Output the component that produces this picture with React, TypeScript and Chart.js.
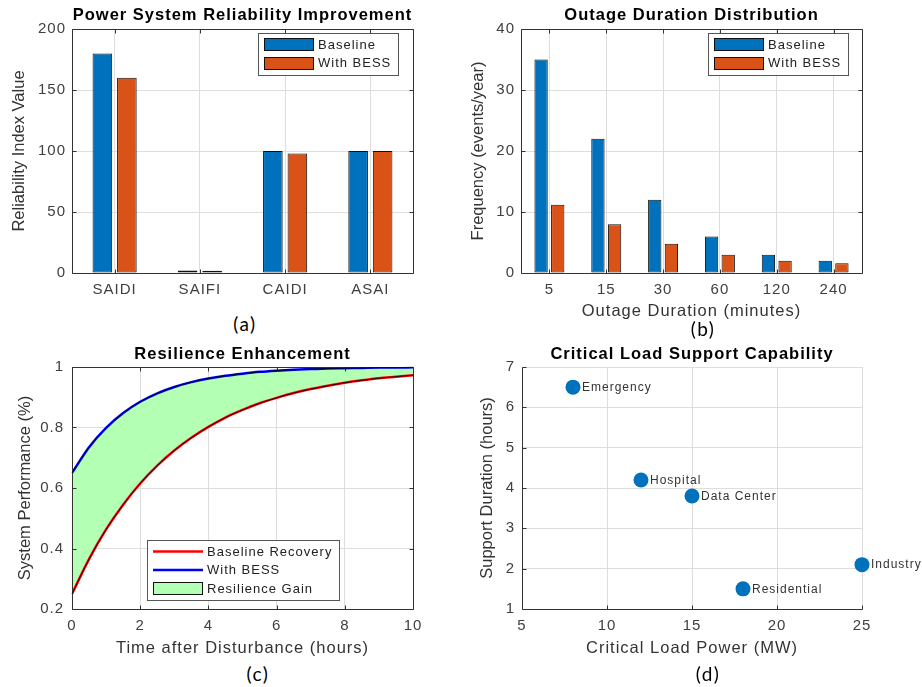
import React, { useEffect, useRef } from "react";
import { Chart, registerables } from "chart.js";

Chart.register(...registerables);

const FONT = "'Liberation Sans', Arial, Helvetica, sans-serif";
const CAPTION_FONT = "Lato, 'Open Sans', sans-serif";
const BLUE = "#0072BD";
const ORANGE = "#D95319";
const GAIN_GREEN = "rgb(179,255,179)";
const GRID = "#dedede";
const AXIS = "#333333";
const TICK_COLOR = "#404040";
const LABEL_COLOR = "#333333";
const TITLE_SIZE = 16.5;
const LABEL_SIZE = 16.5;
const TICK_SIZE = 15;

// ---------- data ----------
// (a) reliability indices
const reliabilityIndices = ["SAIDI", "SAIFI", "CAIDI", "ASAI"];
const reliabilityBaseline = [180, 2, 100, 100];
const reliabilityWithBess = [160, 1.8, 98, 100];
const reliabilityTicks = [0, 50, 100, 150, 200];
const seriesNames = ["Baseline", "With BESS"];

// (b) outage duration distribution
const outageDurations = ["5", "15", "30", "60", "120", "240"];
const outageBaseline = [35, 22, 12, 6, 3, 2];
const outageWithBess = [11.2, 8, 4.8, 3, 2, 1.6];
const frequencyTicks = [0, 10, 20, 30, 40];

// (c) resilience curves
const recoveryHours = [0, 0.5, 1, 1.5, 2, 2.5, 3, 3.5, 4, 4.5, 5, 5.5, 6, 6.5, 7, 7.5, 8, 8.5, 9, 9.5, 10];
const baselineRecovery = [0.25, 0.365, 0.463, 0.545, 0.615, 0.674, 0.724, 0.766, 0.802, 0.833, 0.858, 0.88, 0.898, 0.914, 0.927, 0.938, 0.948, 0.956, 0.963, 0.968, 0.973];
const bessRecovery = [0.65, 0.735, 0.799, 0.848, 0.885, 0.913, 0.934, 0.95, 0.962, 0.971, 0.978, 0.984, 0.988, 0.991, 0.993, 0.995, 0.996, 0.997, 0.998, 0.998, 0.999];
const recoveryNames = ["Baseline Recovery", "With BESS", "Resilience Gain"];
const hourTicks = [0, 2, 4, 6, 8, 10];
const performanceTicks = [0.2, 0.4, 0.6, 0.8, 1];

// (d) critical loads
const loadNames = ["Hospital", "Data Center", "Industry", "Residential", "Emergency"];
const loadPowerMW = [12, 15, 25, 18, 8];
const supportHours = [4.2, 3.8, 2.1, 1.5, 6.5];
const powerTicks = [5, 10, 15, 20, 25];
const durationTicks = [1, 2, 3, 4, 5, 6, 7];

// ---------- plugins ----------
const spacingPlugin = {
  id: "spacing",
  beforeDraw(chart: any) {
    (chart.ctx as any).letterSpacing = "1px";
  },
};

const framePlugin = {
  id: "frame",
  afterDatasetsDraw(chart: any, _a: any, opts: any) {
    const { ctx, chartArea: a, scales } = chart;
    const xs = scales.x;
    const ys = scales.y;
    const L = Math.round(a.left) + 0.5;
    const R = Math.round(a.right) + 0.5;
    const T = Math.round(a.top) + 0.5;
    const B = Math.round(a.bottom) + 0.5;
    const tl = 4;
    ctx.save();
    ctx.strokeStyle = AXIS;
    ctx.lineWidth = 1;
    ctx.beginPath();
    xs.ticks.forEach((_t: any, i: number) => {
      const px = Math.round(xs.getPixelForTick(i)) + 0.5;
      ctx.moveTo(px, B);
      ctx.lineTo(px, B - tl);
      if (opts.box) {
        ctx.moveTo(px, T);
        ctx.lineTo(px, T + tl);
      }
    });
    ys.ticks.forEach((_t: any, i: number) => {
      const py = Math.round(ys.getPixelForTick(i)) + 0.5;
      ctx.moveTo(L, py);
      ctx.lineTo(L + tl, py);
      if (opts.box) {
        ctx.moveTo(R, py);
        ctx.lineTo(R - tl, py);
      }
    });
    ctx.stroke();
    ctx.beginPath();
    if (opts.box) {
      ctx.rect(L, T, R - L, B - T);
    } else {
      ctx.moveTo(L, T);
      ctx.lineTo(L, B);
      ctx.lineTo(R, B);
    }
    ctx.stroke();
    ctx.restore();
  },
};

const edgePlugin = {
  id: "edge",
  afterDatasetsDraw(chart: any, _a: any, opts: any) {
    if (!opts || !opts.datasets) return;
    const { ctx } = chart;
    ctx.save();
    ctx.strokeStyle = "#000";
    ctx.lineWidth = 0.8;
    for (const i of opts.datasets) {
      const line = chart.getDatasetMeta(i).dataset;
      if (!line) continue;
      ctx.beginPath();
      line.path(ctx);
      ctx.stroke();
    }
    ctx.restore();
  },
};

const pointLabelPlugin = {
  id: "pointLabels",
  afterDatasetsDraw(chart: any, _a: any, opts: any) {
    if (!opts || !opts.names) return;
    const { ctx } = chart;
    const meta = chart.getDatasetMeta(0);
    ctx.save();
    ctx.font = `12px ${FONT}`;
    (ctx as any).letterSpacing = "1px";
    ctx.fillStyle = LABEL_COLOR;
    ctx.textAlign = "left";
    ctx.textBaseline = "middle";
    meta.data.forEach((pt: any, i: number) => {
      ctx.fillText(opts.names[i], pt.x + opts.offset, pt.y + 0.5);
    });
    ctx.restore();
  },
};

const yTitlePlugin = {
  id: "yTitle",
  afterDraw(chart: any, _a: any, opts: any) {
    if (!opts || !opts.text) return;
    const { ctx, chartArea: a } = chart;
    ctx.save();
    (ctx as any).letterSpacing = "0px";
    ctx.font = `${LABEL_SIZE}px ${FONT}`;
    ctx.fillStyle = LABEL_COLOR;
    ctx.textAlign = "center";
    ctx.textBaseline = "middle";
    ctx.translate(opts.x, (a.top + a.bottom) / 2);
    ctx.rotate(-Math.PI / 2);
    ctx.fillText(opts.text, 0, 0);
    ctx.restore();
  },
};

const boxLegendPlugin = {
  id: "boxLegend",
  afterDraw(chart: any, _a: any, opts: any) {
    if (!opts || !opts.items) return;
    const { ctx, chartArea: a } = chart;
    const items = opts.items;
    ctx.save();
    ctx.font = `13px ${FONT}`;
    (ctx as any).letterSpacing = "1px";
    const pitch = 18.5;
    const patchW = 50;
    const padL = 6;
    const gap = 4;
    const padR = 7;
    const textW = Math.max(...items.map((it: any) => ctx.measureText(it.label).width));
    const w = Math.round(padL + patchW + gap + textW + padR);
    const h = Math.round(items.length * pitch + 4.5);
    let x0: number;
    let y0: number;
    if (opts.anchor === "topright") {
      x0 = Math.round(a.right - opts.dx - w);
      y0 = Math.round(a.top + opts.dy);
    } else {
      x0 = Math.round(a.left + opts.dx);
      y0 = Math.round(a.bottom - opts.dy - h);
    }
    ctx.fillStyle = "#ffffff";
    ctx.fillRect(x0, y0, w, h);
    ctx.strokeStyle = "#555555";
    ctx.lineWidth = 1;
    ctx.strokeRect(x0 + 0.5, y0 + 0.5, w, h);
    const top = y0 + (h - items.length * pitch) / 2;
    items.forEach((it: any, i: number) => {
      const cy = top + pitch * (i + 0.5);
      const px = x0 + padL;
      if (it.kind === "line") {
        ctx.strokeStyle = it.color;
        ctx.lineWidth = 2.5;
        ctx.beginPath();
        ctx.moveTo(px, cy);
        ctx.lineTo(px + patchW, cy);
        ctx.stroke();
      } else {
        ctx.fillStyle = it.color;
        ctx.fillRect(px, Math.round(cy - 6.5), patchW, 13);
        ctx.strokeStyle = "#111";
        ctx.lineWidth = 1;
        ctx.strokeRect(px + 0.5, Math.round(cy - 6.5) + 0.5, patchW - 1, 12);
      }
      ctx.fillStyle = "#222222";
      ctx.textAlign = "left";
      ctx.textBaseline = "middle";
      ctx.fillText(it.label, px + patchW + gap, cy + 0.5);
    });
    ctx.restore();
  },
};

// ---------- layout helpers ----------
type Region = { x: number; y: number; w: number; h: number };
type Area = { l: number; t: number; r: number; b: number };

interface PanelSpec {
  region: Region;
  area: Area;
  title: string;
  titleY: number;
  xTitle?: string;
  xTitleY?: number;
  xTickPad: number;
  yTickPad: number;
  yTitle: string;
  yTitleX: number;
  box: boolean;
}

function frameLayout(p: PanelSpec) {
  const tl = TITLE_SIZE * 1.2;
  const ll = LABEL_SIZE * 1.2;
  const xHeight =
    p.xTitleY != null ? p.xTitleY + ll / 2 - p.area.b : p.region.y + p.region.h - p.area.b - 2;
  return {
    padding: {
      left: 0,
      top: 0,
      right: p.region.x + p.region.w - p.area.r,
      bottom: p.region.y + p.region.h - p.area.b - xHeight,
    },
    titlePadding: { top: p.titleY - p.region.y - tl / 2, bottom: p.area.t - p.titleY - tl / 2 },
    yWidth: p.area.l - p.region.x,
    xHeight,
  };
}

const fmtTick = (v: any) => String(parseFloat(Number(v).toFixed(2)));

function buildOptions(p: PanelSpec, xBase: any, yBase: any, extraPlugins: any) {
  const L = frameLayout(p);
  const tickFont = { family: FONT, size: TICK_SIZE };
  return {
    responsive: false,
    maintainAspectRatio: false,
    animation: false,
    devicePixelRatio: 1,
    layout: { padding: L.padding },
    plugins: {
      legend: { display: false },
      tooltip: { enabled: false },
      title: {
        display: true,
        text: p.title,
        fullSize: false,
        color: "#000000",
        font: { family: FONT, size: TITLE_SIZE, weight: "bold", lineHeight: 1.2 },
        padding: L.titlePadding,
      },
      yTitle: { text: p.yTitle, x: p.yTitleX - p.region.x },
      frame: { box: p.box },
      ...extraPlugins,
    },
    scales: {
      x: {
        ...xBase,
        grid: { color: GRID, lineWidth: 1, drawTicks: false, offset: false },
        border: { display: false },
        ticks: {
          ...(xBase.ticks || {}),
          color: TICK_COLOR,
          font: tickFont,
          padding: p.xTickPad,
          maxRotation: 0,
          autoSkip: false,
        },
        title: p.xTitle
          ? {
              display: true,
              text: p.xTitle,
              color: LABEL_COLOR,
              font: { family: FONT, size: LABEL_SIZE, lineHeight: 1.2 },
              padding: { top: 0, bottom: 0 },
            }
          : { display: false },
        afterFit: (s: any) => {
          s.height = L.xHeight;
        },
      },
      y: {
        ...yBase,
        grid: { color: GRID, lineWidth: 1, drawTicks: false },
        border: { display: false },
        ticks: {
          ...(yBase.ticks || {}),
          color: TICK_COLOR,
          font: tickFont,
          padding: p.yTickPad,
          autoSkip: false,
        },
        title: { display: false },
        afterFit: (s: any) => {
          s.width = L.yWidth;
        },
      },
    },
  };
}

const allPlugins = [spacingPlugin, framePlugin, edgePlugin, pointLabelPlugin, yTitlePlugin, boxLegendPlugin];

// ---------- panel specs ----------
const panelA: PanelSpec = {
  region: { x: 0, y: 0, w: 461, h: 305 },
  area: { l: 72, t: 29, r: 413, b: 273 },
  title: "Power System Reliability Improvement",
  titleY: 15,
  xTickPad: 8,
  yTickPad: 6,
  yTitle: "Reliability Index Value",
  yTitleX: 19,
  box: true,
};
const panelB: PanelSpec = {
  region: { x: 461, y: 0, w: 461, h: 328 },
  area: { l: 521, t: 29, r: 862, b: 273 },
  title: "Outage Duration Distribution",
  titleY: 15,
  xTitle: "Outage Duration (minutes)",
  xTitleY: 311.5,
  xTickPad: 8,
  yTickPad: 6,
  yTitle: "Frequency (events/year)",
  yTitleX: 478,
  box: true,
};
const panelC: PanelSpec = {
  region: { x: 0, y: 340, w: 461, h: 320 },
  area: { l: 72, t: 367, r: 413, b: 609 },
  title: "Resilience Enhancement",
  titleY: 354,
  xTitle: "Time after Disturbance (hours)",
  xTitleY: 648,
  xTickPad: 8,
  yTickPad: 8,
  yTitle: "System Performance (%)",
  yTitleX: 25,
  box: true,
};
const panelD: PanelSpec = {
  region: { x: 461, y: 340, w: 461, h: 320 },
  area: { l: 522, t: 367, r: 862, b: 609 },
  title: "Critical Load Support Capability",
  titleY: 354,
  xTitle: "Critical Load Power (MW)",
  xTitleY: 648,
  xTickPad: 8,
  yTickPad: 7,
  yTitle: "Support Duration (hours)",
  yTitleX: 487,
  box: false,
};

const barStyle = { borderColor: "#111111", borderWidth: 1, borderSkipped: false, barPercentage: 0.8 };

function configA() {
  return {
    type: "bar",
    data: {
      labels: reliabilityIndices,
      datasets: [
        { label: seriesNames[0], data: reliabilityBaseline, backgroundColor: BLUE, ...barStyle, categoryPercentage: 0.575 },
        { label: seriesNames[1], data: reliabilityWithBess, backgroundColor: ORANGE, ...barStyle, categoryPercentage: 0.575 },
      ],
    },
    options: buildOptions(
      panelA,
      { type: "category" },
      {
        type: "linear",
        min: reliabilityTicks[0],
        max: reliabilityTicks[reliabilityTicks.length - 1],
        ticks: { stepSize: reliabilityTicks[1] - reliabilityTicks[0], callback: fmtTick },
      },
      {
        boxLegend: {
          anchor: "topright",
          dx: 15,
          dy: 4,
          items: [
            { label: seriesNames[0], kind: "patch", color: BLUE },
            { label: seriesNames[1], kind: "patch", color: ORANGE },
          ],
        },
      }
    ),
    plugins: allPlugins,
  };
}

function configB() {
  return {
    type: "bar",
    data: {
      labels: outageDurations,
      datasets: [
        { label: seriesNames[0], data: outageBaseline, backgroundColor: BLUE, ...barStyle, categoryPercentage: 0.586 },
        { label: seriesNames[1], data: outageWithBess, backgroundColor: ORANGE, ...barStyle, categoryPercentage: 0.586 },
      ],
    },
    options: buildOptions(
      panelB,
      { type: "category" },
      {
        type: "linear",
        min: frequencyTicks[0],
        max: frequencyTicks[frequencyTicks.length - 1],
        ticks: { stepSize: frequencyTicks[1] - frequencyTicks[0], callback: fmtTick },
      },
      {
        boxLegend: {
          anchor: "topright",
          dx: 14,
          dy: 4,
          items: [
            { label: seriesNames[0], kind: "patch", color: BLUE },
            { label: seriesNames[1], kind: "patch", color: ORANGE },
          ],
        },
      }
    ),
    plugins: allPlugins,
  };
}

function configC() {
  const base = recoveryHours.map((t, i) => ({ x: t, y: baselineRecovery[i] }));
  const bess = recoveryHours.map((t, i) => ({ x: t, y: bessRecovery[i] }));
  return {
    type: "line",
    data: {
      datasets: [
        {
          label: recoveryNames[0],
          data: base,
          borderColor: "#ff0000",
          borderWidth: 2.5,
          pointRadius: 0,
          fill: false,
          cubicInterpolationMode: "monotone",
        },
        {
          label: recoveryNames[1],
          data: bess,
          borderColor: "#0000ff",
          borderWidth: 2.5,
          pointRadius: 0,
          fill: 0,
          backgroundColor: GAIN_GREEN,
          cubicInterpolationMode: "monotone",
        },
      ],
    },
    options: buildOptions(
      panelC,
      {
        type: "linear",
        min: hourTicks[0],
        max: hourTicks[hourTicks.length - 1],
        ticks: { stepSize: hourTicks[1] - hourTicks[0], callback: fmtTick },
      },
      {
        type: "linear",
        min: performanceTicks[0],
        max: performanceTicks[performanceTicks.length - 1],
        ticks: { stepSize: 0.2, callback: fmtTick },
      },
      {
        edge: { datasets: [0, 1] },
        boxLegend: {
          anchor: "bottomleft",
          dx: 75,
          dy: 9,
          items: [
            { label: recoveryNames[0], kind: "line", color: "#ff0000" },
            { label: recoveryNames[1], kind: "line", color: "#0000ff" },
            { label: recoveryNames[2], kind: "patch", color: GAIN_GREEN },
          ],
        },
      }
    ),
    plugins: allPlugins,
  };
}

function configD() {
  const pts = loadPowerMW.map((p, i) => ({ x: p, y: supportHours[i] }));
  return {
    type: "scatter",
    data: {
      datasets: [
        {
          label: "Critical Loads",
          data: pts,
          backgroundColor: BLUE,
          borderWidth: 0,
          pointRadius: 7.5,
          pointHoverRadius: 7.5,
          clip: false,
        },
      ],
    },
    options: buildOptions(
      panelD,
      {
        type: "linear",
        min: powerTicks[0],
        max: powerTicks[powerTicks.length - 1],
        ticks: { stepSize: powerTicks[1] - powerTicks[0], callback: fmtTick },
      },
      {
        type: "linear",
        min: durationTicks[0],
        max: durationTicks[durationTicks.length - 1],
        ticks: { stepSize: 1, callback: fmtTick },
      },
      { pointLabels: { names: loadNames, offset: 9 } }
    ),
    plugins: allPlugins,
  };
}

function ChartCanvas({ region, build }: { region: Region; build: () => any }) {
  const ref = useRef<HTMLCanvasElement>(null);
  useEffect(() => {
    const chart = new Chart(ref.current as HTMLCanvasElement, build());
    return () => chart.destroy();
  }, []);
  return (
    <canvas
      ref={ref}
      width={region.w}
      height={region.h}
      style={{ position: "absolute", left: region.x, top: region.y, width: region.w, height: region.h }}
    />
  );
}

const captions = [
  { text: "(a)", x: 245, y: 323 },
  { text: "(b)", x: 703, y: 328 },
  { text: "(c)", x: 258, y: 673 },
  { text: "(d)", x: 708, y: 673 },
];

export default function App() {
  return (
    <div
      style={{
        position: "fixed",
        left: 0,
        top: 0,
        width: 922,
        height: 687,
        background: "#ffffff",
        overflow: "hidden",
      }}
    >
      <ChartCanvas region={panelA.region} build={configA} />
      <ChartCanvas region={panelB.region} build={configB} />
      <ChartCanvas region={panelC.region} build={configC} />
      <ChartCanvas region={panelD.region} build={configD} />
      {captions.map((c) => (
        <div
          key={c.text}
          style={{
            position: "absolute",
            left: c.x,
            top: c.y,
            transform: "translate(-50%, -50%)",
            fontFamily: CAPTION_FONT,
            fontSize: 19,
            lineHeight: 1,
            letterSpacing: "1.5px",
            color: "#000",
            whiteSpace: "nowrap",
          }}
        >
          {c.text}
        </div>
      ))}
    </div>
  );
}
